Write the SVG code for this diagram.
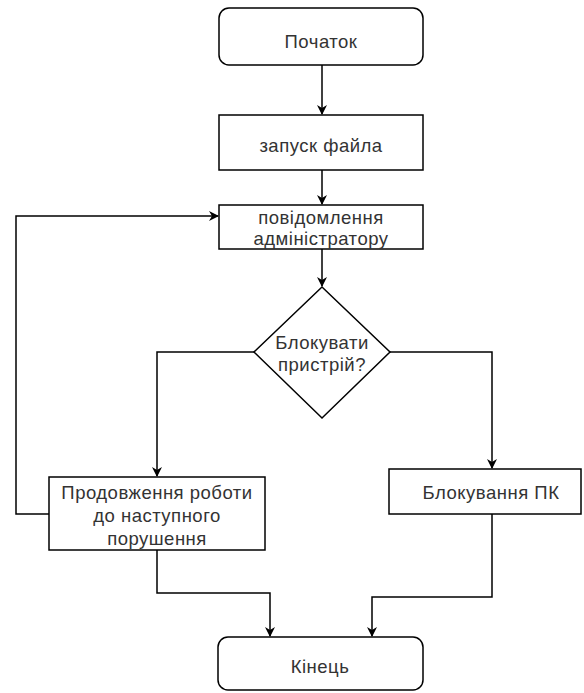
<svg xmlns="http://www.w3.org/2000/svg" width="584" height="693" viewBox="0 0 584 693">
  <defs>
    <marker id="arrow" viewBox="0 0 10 10" refX="9" refY="5" markerWidth="10" markerHeight="10" markerUnits="userSpaceOnUse" orient="auto">
      <path d="M0,0 L10,5 L0,10 L3,5 Z" fill="#000"/>
    </marker>
  </defs>
  <style>
    .shape { fill: #fff; stroke: #000; stroke-width: 1.5; }
    .label { font-family: "Liberation Sans", Arial, sans-serif; font-size: 18.5px; letter-spacing: 0.5px; fill: #333; text-anchor: middle; }
    .edge { fill: none; stroke: #000; stroke-width: 1.5; marker-end: url(#arrow); }
  </style>
  <rect width="584" height="693" fill="#fff"/>

  <g id="connectors">
    <path class="edge" d="M322,65 L322,114"/>
    <path class="edge" d="M322,170 L322,204"/>
    <path class="edge" d="M322,249 L322,286"/>
    <path class="edge" d="M254,352 L157,352 L157,476"/>
    <path class="edge" d="M390,352 L492,352 L492,468"/>
    <path class="edge" d="M49,514 L16,514 L16,216 L218,216"/>
    <path class="edge" d="M157,550 L157,593 L270,593 L270,636"/>
    <path class="edge" d="M492,514 L492,597 L372,597 L372,636"/>
  </g>

  <g id="start">
    <rect class="shape" x="219" y="8" width="204" height="57" rx="10"/>
    <text class="label" x="321" y="48">Початок</text>
  </g>

  <g id="launch">
    <rect class="shape" x="219" y="115" width="204" height="55"/>
    <text class="label" x="321" y="152">запуск файла</text>
  </g>

  <g id="notify">
    <rect class="shape" x="219" y="205" width="204" height="44"/>
    <text class="label" x="321" y="224">повідомлення</text>
    <text class="label" x="321" y="245">адміністратору</text>
  </g>

  <g id="decision">
    <polygon class="shape" points="322,287 390,352 322,418 254,352"/>
    <text class="label" x="322" y="349">Блокувати</text>
    <text class="label" x="322" y="371">пристрій?</text>
  </g>

  <g id="continue">
    <rect class="shape" x="49" y="477" width="216" height="73"/>
    <text class="label" x="157" y="499">Продовження роботи</text>
    <text class="label" x="157" y="522">до наступного</text>
    <text class="label" x="157" y="545">порушення</text>
  </g>

  <g id="block">
    <rect class="shape" x="389" y="469" width="192" height="45"/>
    <text class="label" x="491" y="499">Блокування ПК</text>
  </g>

  <g id="end">
    <rect class="shape" x="218" y="637" width="205" height="53" rx="10"/>
    <text class="label" x="320" y="673">Кінець</text>
  </g>
</svg>
